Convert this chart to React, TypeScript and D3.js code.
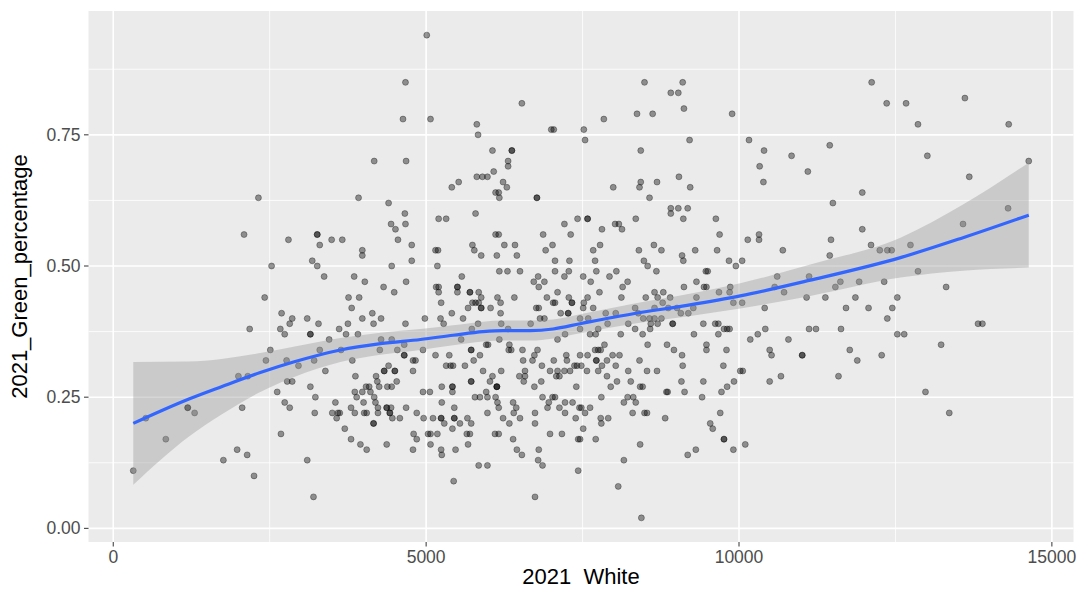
import React from "react";
import * as d3 from "d3";

const W = 1082;
const H = 591;
const panel = { left: 88.5, right: 1073.5, top: 11, bottom: 542 };

// [2021 White, 2021_Green_percentage]
const points: [number, number][] = [
  [2320,0.63],[2090,0.56],
  [4670,0.85],[4630,0.78],[4170,0.70],[4680,0.70],[3920,0.63],[4400,0.62],[4660,0.60],[4440,0.58],[4670,0.58],[4510,0.57],
  [2800,0.55],[3260,0.56],[3260,0.56],[3300,0.54],[3490,0.55],[3660,0.55],[4550,0.55],[4770,0.54],[3980,0.53],[3980,0.52],
  [3180,0.51],[3260,0.50],[2530,0.50],[4450,0.50],[4770,0.51],[3370,0.48],[3850,0.48],
  [5010,0.94],[6530,0.81],[5070,0.78],[5810,0.77],[5830,0.75],[7000,0.76],[7040,0.76],[6060,0.72],[6370,0.72],[6370,0.72],
  [6310,0.70],[6310,0.69],[6080,0.68],[5810,0.67],[5900,0.67],[5980,0.67],[5520,0.66],[5410,0.65],[6230,0.66],[6290,0.65],
  [6110,0.64],[6160,0.64],[6170,0.63],[6770,0.63],[6770,0.63],[5790,0.60],[5200,0.59],[5320,0.59],[7210,0.58],[7420,0.59],
  [6110,0.56],[6160,0.56],[6870,0.56],[7310,0.56],[5150,0.53],[5190,0.53],[5740,0.54],[5770,0.53],[5880,0.52],[6250,0.54],
  [6420,0.54],[6130,0.52],[6450,0.52],[6910,0.53],[7020,0.54],[7060,0.51],[7290,0.51],[5180,0.50],[5570,0.48],[6170,0.49],
  [6300,0.49],[6500,0.49],[7060,0.49],[7280,0.49],[6790,0.48],[7210,0.48],
  [8490,0.85],[9100,0.85],[8910,0.83],[9030,0.83],[9120,0.80],[8370,0.79],[8620,0.79],[9890,0.79],[7840,0.78],[7520,0.76],
  [7540,0.74],[9210,0.74],[8430,0.72],[9040,0.67],[7990,0.65],[8430,0.66],[8410,0.65],[8690,0.66],[9220,0.65],[8570,0.63],
  [8910,0.61],[9030,0.61],[9180,0.61],[8910,0.60],[7580,0.59],[7580,0.59],[8350,0.59],[9110,0.59],[9630,0.59],[8020,0.58],
  [8080,0.58],[8130,0.57],[7810,0.57],[9690,0.56],[7780,0.54],[7670,0.53],[8400,0.53],[8640,0.54],[8760,0.53],[9300,0.53],
  [9650,0.53],[9090,0.52],[9110,0.51],[7700,0.51],[8480,0.51],[8540,0.50],[9840,0.51],[9950,0.50],[10050,0.51],[7720,0.49],
  [8040,0.49],[8680,0.49],[9470,0.49],[9500,0.49],[7510,0.48],[7930,0.48],
  [12120,0.85],[12360,0.81],[10160,0.74],[10400,0.72],[10840,0.71],[11450,0.73],[10330,0.69],[11100,0.68],[10390,0.66],[11970,0.64],
  [11500,0.62],[11970,0.57],[10320,0.56],[10140,0.55],[10320,0.55],[11470,0.55],[10700,0.53],[12110,0.54],[12250,0.53],[12370,0.53],
  [12440,0.53],[11450,0.52],[10610,0.48],[11120,0.48],
  [12670,0.81],[12860,0.77],[13610,0.82],[14310,0.77],[13010,0.71],[13680,0.67],[14630,0.70],[14300,0.61],[13580,0.58],[12740,0.54],[12860,0.49],
  [2180,0.38],[2000,0.29],[2150,0.29],[1190,0.23],[1190,0.23],[1300,0.22],[2060,0.23],[520,0.21],[840,0.17],[1980,0.15],
  [2140,0.14],[1760,0.13],[320,0.11],[2250,0.10],
  [2420,0.44],[2690,0.41],[2860,0.40],[2820,0.39],[2670,0.38],[2740,0.37],[3100,0.40],[3280,0.39],[3150,0.37],[3150,0.37],
  [3450,0.36],[3610,0.38],[3720,0.37],[3750,0.39],[3910,0.37],[3760,0.44],[3930,0.44],[3810,0.42],[4020,0.47],[3980,0.40],
  [4140,0.41],[4160,0.39],[4280,0.40],[4320,0.46],[4490,0.45],[4680,0.47],[4670,0.39],[2510,0.34],[2440,0.32],[2770,0.32],
  [3300,0.34],[3210,0.32],[3640,0.34],[3820,0.32],[2960,0.31],[3390,0.30],[3870,0.29],[4280,0.36],[4450,0.36],[4260,0.34],
  [4540,0.34],[4650,0.35],[4650,0.33],[4650,0.33],[4790,0.32],[4830,0.32],[4790,0.30],[4400,0.31],[4330,0.30],[4330,0.30],
  [4500,0.30],[4500,0.30],[4200,0.29],[2780,0.28],[2860,0.28],[2620,0.26],[3150,0.27],[3230,0.25],[2740,0.24],[2820,0.23],
  [3220,0.22],[3860,0.26],[3890,0.25],[3980,0.26],[4040,0.27],[4090,0.27],[4110,0.26],[4220,0.28],[4250,0.27],[4380,0.27],
  [4450,0.27],[4530,0.28],[4170,0.25],[4190,0.24],[4000,0.24],[3550,0.24],[3800,0.23],[4230,0.23],[4370,0.23],[4370,0.23],
  [4440,0.23],[4680,0.23],[3500,0.22],[3590,0.22],[3620,0.22],[3570,0.21],[3860,0.22],[4010,0.22],[4050,0.22],[4230,0.22],
  [4420,0.22],[4420,0.22],[4460,0.21],[4580,0.21],[4850,0.22],[4160,0.20],[4160,0.20],[3700,0.19],[2680,0.18],[3800,0.17],
  [3950,0.16],[4050,0.15],[4370,0.16],[4800,0.18],[4850,0.17],[4790,0.15],[3100,0.13],[3200,0.06],
  [6720,0.47],[6890,0.47],[5160,0.46],[5200,0.46],[5500,0.46],[5500,0.46],[5200,0.45],[5500,0.45],[5700,0.45],[5700,0.45],
  [5840,0.45],[5880,0.44],[5740,0.43],[5790,0.43],[5840,0.43],[5880,0.42],[5880,0.42],[5670,0.42],[5240,0.43],[5410,0.41],
  [4980,0.40],[5230,0.40],[5280,0.39],[5590,0.40],[6140,0.44],[6190,0.43],[6030,0.42],[6190,0.41],[6410,0.44],[6760,0.42],
  [6800,0.42],[6800,0.46],[6930,0.44],[7100,0.45],[7030,0.43],[7060,0.43],[7280,0.44],[7330,0.43],[7330,0.43],[7150,0.41],
  [7270,0.41],[7270,0.41],[6820,0.40],[6890,0.40],[5830,0.39],[6200,0.39],[6670,0.39],[6310,0.38],[5730,0.38],[5560,0.36],
  [6170,0.36],[7220,0.37],[7100,0.36],[5960,0.35],[5990,0.35],[6330,0.35],[4950,0.34],[5720,0.34],[5720,0.34],[6320,0.34],
  [6360,0.34],[6540,0.34],[6780,0.34],[5150,0.33],[5370,0.33],[5860,0.33],[6730,0.33],[7240,0.33],[5760,0.32],[6550,0.32],
  [6700,0.32],[7040,0.32],[7250,0.32],[7370,0.31],[7410,0.31],[5320,0.31],[5390,0.31],[5430,0.31],[5620,0.31],[6850,0.31],
  [5910,0.30],[6200,0.30],[6580,0.30],[6980,0.30],[7100,0.30],[7210,0.30],[7300,0.30],[6490,0.29],[6580,0.29],[6060,0.29],
  [7080,0.29],[7130,0.29],[6020,0.28],[5720,0.28],[5720,0.28],[6560,0.28],[6840,0.28],[5250,0.27],[5420,0.27],[5420,0.27],
  [6130,0.27],[6130,0.27],[6130,0.27],[6730,0.27],[7400,0.27],[4950,0.26],[5060,0.26],[5420,0.26],[5960,0.26],[5780,0.25],
  [5860,0.25],[5980,0.25],[6110,0.25],[6860,0.25],[7020,0.25],[7060,0.25],[6140,0.24],[6390,0.24],[6960,0.24],[7220,0.24],
  [7340,0.24],[5250,0.24],[6160,0.23],[6440,0.23],[6940,0.23],[7130,0.23],[7450,0.23],[5450,0.23],[5980,0.22],[6400,0.22],
  [6740,0.22],[7220,0.22],[4960,0.21],[5110,0.21],[5240,0.21],[5240,0.21],[5450,0.21],[5450,0.21],[5660,0.21],[6230,0.21],
  [6500,0.21],[7390,0.21],[5290,0.20],[5540,0.20],[5720,0.20],[6330,0.20],[6740,0.20],[5420,0.19],[5030,0.18],[5070,0.18],
  [5180,0.18],[5650,0.18],[5700,0.18],[6100,0.18],[6160,0.18],[6980,0.18],[7170,0.18],[6390,0.17],[7430,0.17],[5070,0.16],
  [5670,0.16],[5240,0.15],[5470,0.15],[6450,0.15],[6800,0.15],[5250,0.14],[6530,0.14],[6790,0.13],[6860,0.12],[5840,0.12],
  [5980,0.12],[7430,0.11],[5440,0.09],[6740,0.06],
  [7630,0.47],[8140,0.46],[8220,0.47],[9120,0.46],[9320,0.47],[9440,0.46],[9480,0.46],[9860,0.46],[7580,0.44],[7520,0.43],
  [7770,0.45],[8120,0.44],[8510,0.44],[8650,0.45],[8700,0.44],[8790,0.45],[8900,0.44],[8780,0.43],[9320,0.44],[9680,0.45],
  [9850,0.45],[9910,0.43],[7510,0.42],[7670,0.42],[7870,0.41],[8030,0.41],[8340,0.42],[8390,0.41],[8650,0.42],[8870,0.42],
  [9010,0.42],[9270,0.42],[9070,0.41],[9190,0.41],[7460,0.40],[7590,0.40],[8470,0.40],[8570,0.40],[8650,0.40],[8760,0.40],
  [7900,0.39],[8230,0.39],[8590,0.39],[8700,0.39],[8940,0.39],[8940,0.39],[9430,0.39],[9620,0.39],[9670,0.39],[7460,0.38],
  [7750,0.38],[8340,0.38],[8580,0.38],[9760,0.38],[9810,0.38],[9850,0.38],[7620,0.37],[7710,0.37],[8110,0.37],[8460,0.37],
  [9280,0.37],[9670,0.37],[7850,0.35],[8540,0.35],[8850,0.35],[9480,0.35],[7700,0.34],[7750,0.34],[7790,0.34],[8960,0.34],
  [9480,0.34],[9800,0.34],[7460,0.33],[7580,0.33],[7980,0.33],[8090,0.33],[9090,0.33],[7720,0.32],[7720,0.32],[7890,0.32],
  [8410,0.32],[7480,0.31],[7810,0.31],[8030,0.31],[9100,0.31],[9750,0.31],[7570,0.30],[7750,0.30],[8230,0.30],[8530,0.30],
  [8690,0.30],[10020,0.30],[7890,0.29],[8050,0.28],[8270,0.28],[9080,0.28],[9430,0.28],[9920,0.28],[7950,0.27],[8420,0.27],
  [8460,0.27],[9810,0.27],[8840,0.26],[8860,0.26],[9130,0.26],[9720,0.26],[7800,0.25],[8220,0.25],[8310,0.25],[9410,0.25],
  [8160,0.24],[8350,0.24],[7480,0.23],[7620,0.23],[7540,0.22],[8300,0.22],[8490,0.22],[8530,0.22],[9700,0.22],[7790,0.21],
  [7910,0.21],[8820,0.21],[7800,0.20],[9540,0.20],[7510,0.19],[9580,0.19],[7460,0.17],[7710,0.17],[9760,0.17],[9760,0.17],
  [8420,0.16],[9310,0.15],[9180,0.14],[9910,0.15],[8160,0.13],[8070,0.08],[8440,0.02],
  [11620,0.47],[11920,0.47],[12320,0.47],[10570,0.46],[11540,0.46],[10720,0.45],[11080,0.44],[11380,0.44],[11860,0.44],[12530,0.44],
  [10050,0.43],[10410,0.42],[11710,0.42],[12070,0.42],[12450,0.42],[12370,0.40],[10420,0.38],[11120,0.38],[11230,0.38],[11630,0.38],
  [10300,0.37],[12530,0.37],[12640,0.37],[10180,0.36],[10790,0.36],[10490,0.34],[10520,0.33],[11010,0.33],[11010,0.33],[11770,0.34],
  [11890,0.32],[12280,0.33],[10060,0.30],[10490,0.28],[10670,0.29],[11590,0.29],[10100,0.16],
  [13310,0.46],[13820,0.39],[13890,0.39],[13230,0.35],[12980,0.26],[13360,0.22],
];

// loess fit and its 95% band
const smoothX = [320, 1200, 1730, 2350, 2880, 3630, 4270, 4910, 5430, 5910, 6230, 6660, 7030, 7460, 8310, 9170, 10020, 11140, 12580, 13580, 14630];
const smoothFit = [0.200, 0.246, 0.270, 0.297, 0.317, 0.340, 0.352, 0.360, 0.368, 0.375, 0.377, 0.377, 0.380, 0.390, 0.409, 0.425, 0.443, 0.473, 0.516, 0.554, 0.597];
const smoothSe = [0.117, 0.072, 0.053, 0.037, 0.029, 0.023, 0.021, 0.020, 0.019, 0.019, 0.019, 0.019, 0.018, 0.018, 0.019, 0.021, 0.024, 0.030, 0.038, 0.063, 0.100];

const xTicks = [0, 5000, 10000, 15000];
const xMinor = [2500, 7500, 12500];
const yTicks = [0, 0.25, 0.5, 0.75];
const yMinor = [0.125, 0.375, 0.625, 0.875];

const expand = (ext: number[]) => {
  const pad = (ext[1] - ext[0]) * 0.05;
  return [ext[0] - pad, ext[1] + pad];
};

const font = "'Liberation Sans', Arial, sans-serif";

export default function App() {
  const x = d3
    .scaleLinear()
    .domain(expand(d3.extent(points, (d) => d[0]) as number[]))
    .range([panel.left, panel.right]);
  const y = d3
    .scaleLinear()
    .domain(expand(d3.extent(points, (d) => d[1]) as number[]))
    .range([panel.bottom, panel.top]);

  const idx = d3.range(smoothX.length);
  const band = d3
    .area<number>()
    .x((i) => x(smoothX[i]))
    .y0((i) => y(smoothFit[i] - smoothSe[i]))
    .y1((i) => y(smoothFit[i] + smoothSe[i]))
    .curve(d3.curveMonotoneX);
  const fit = d3
    .line<number>()
    .x((i) => x(smoothX[i]))
    .y((i) => y(smoothFit[i]))
    .curve(d3.curveMonotoneX);

  return (
    <svg width={W} height={H} style={{ position: "absolute", left: 0, top: 0, background: "#fff" }}>
      <rect x={panel.left} y={panel.top} width={panel.right - panel.left} height={panel.bottom - panel.top} fill="#EBEBEB" />
      {/* grid */}
      {yMinor.map((v) => (
        <line key={"ym" + v} x1={panel.left} x2={panel.right} y1={y(v)} y2={y(v)} stroke="#fff" strokeWidth={0.8} />
      ))}
      {xMinor.map((v) => (
        <line key={"xm" + v} y1={panel.top} y2={panel.bottom} x1={x(v)} x2={x(v)} stroke="#fff" strokeWidth={0.8} />
      ))}
      {yTicks.map((v) => (
        <line key={"yg" + v} x1={panel.left} x2={panel.right} y1={y(v)} y2={y(v)} stroke="#fff" strokeWidth={1.6} />
      ))}
      {xTicks.map((v) => (
        <line key={"xg" + v} y1={panel.top} y2={panel.bottom} x1={x(v)} x2={x(v)} stroke="#fff" strokeWidth={1.6} />
      ))}

      {/* points */}
      <g>
        {points.map((d, i) => (
          <circle
            key={i}
            cx={x(d[0])}
            cy={y(d[1])}
            r={3}
            fill="#000"
            fillOpacity={0.4}
            stroke="#000"
            strokeOpacity={0.4}
            strokeWidth={0.8}
          />
        ))}
      </g>

      {/* smooth */}
      <path d={band(idx) || ""} fill="#999999" fillOpacity={0.4} />
      <path d={fit(idx) || ""} fill="none" stroke="#3366FF" strokeWidth={3.2} />

      {/* axes */}
      {yTicks.map((v) => (
        <g key={"yt" + v}>
          <line x1={panel.left - 4.5} x2={panel.left} y1={y(v)} y2={y(v)} stroke="#333" strokeWidth={1} />
          <text x={panel.left - 8} y={y(v)} dy="0.35em" textAnchor="end" fontSize={17.5} fill="#4D4D4D" fontFamily={font}>
            {v.toFixed(2)}
          </text>
        </g>
      ))}
      {xTicks.map((v) => (
        <g key={"xt" + v}>
          <line y1={panel.bottom} y2={panel.bottom + 4.5} x1={x(v)} x2={x(v)} stroke="#333" strokeWidth={1} />
          <text x={x(v)} y={panel.bottom + 21} textAnchor="middle" fontSize={17.5} fill="#4D4D4D" fontFamily={font}>
            {String(v)}
          </text>
        </g>
      ))}
      <text
        x={(panel.left + panel.right) / 2}
        y={584}
        textAnchor="middle"
        fontSize={22}
        fill="#000"
        fontFamily={font}
        style={{ whiteSpace: "pre" }}
      >
        {"2021  White"}
      </text>
      <text
        transform={`translate(27,${(panel.top + panel.bottom) / 2}) rotate(-90)`}
        textAnchor="middle"
        fontSize={22}
        fill="#000"
        fontFamily={font}
      >
        2021_Green_percentage
      </text>
    </svg>
  );
}
